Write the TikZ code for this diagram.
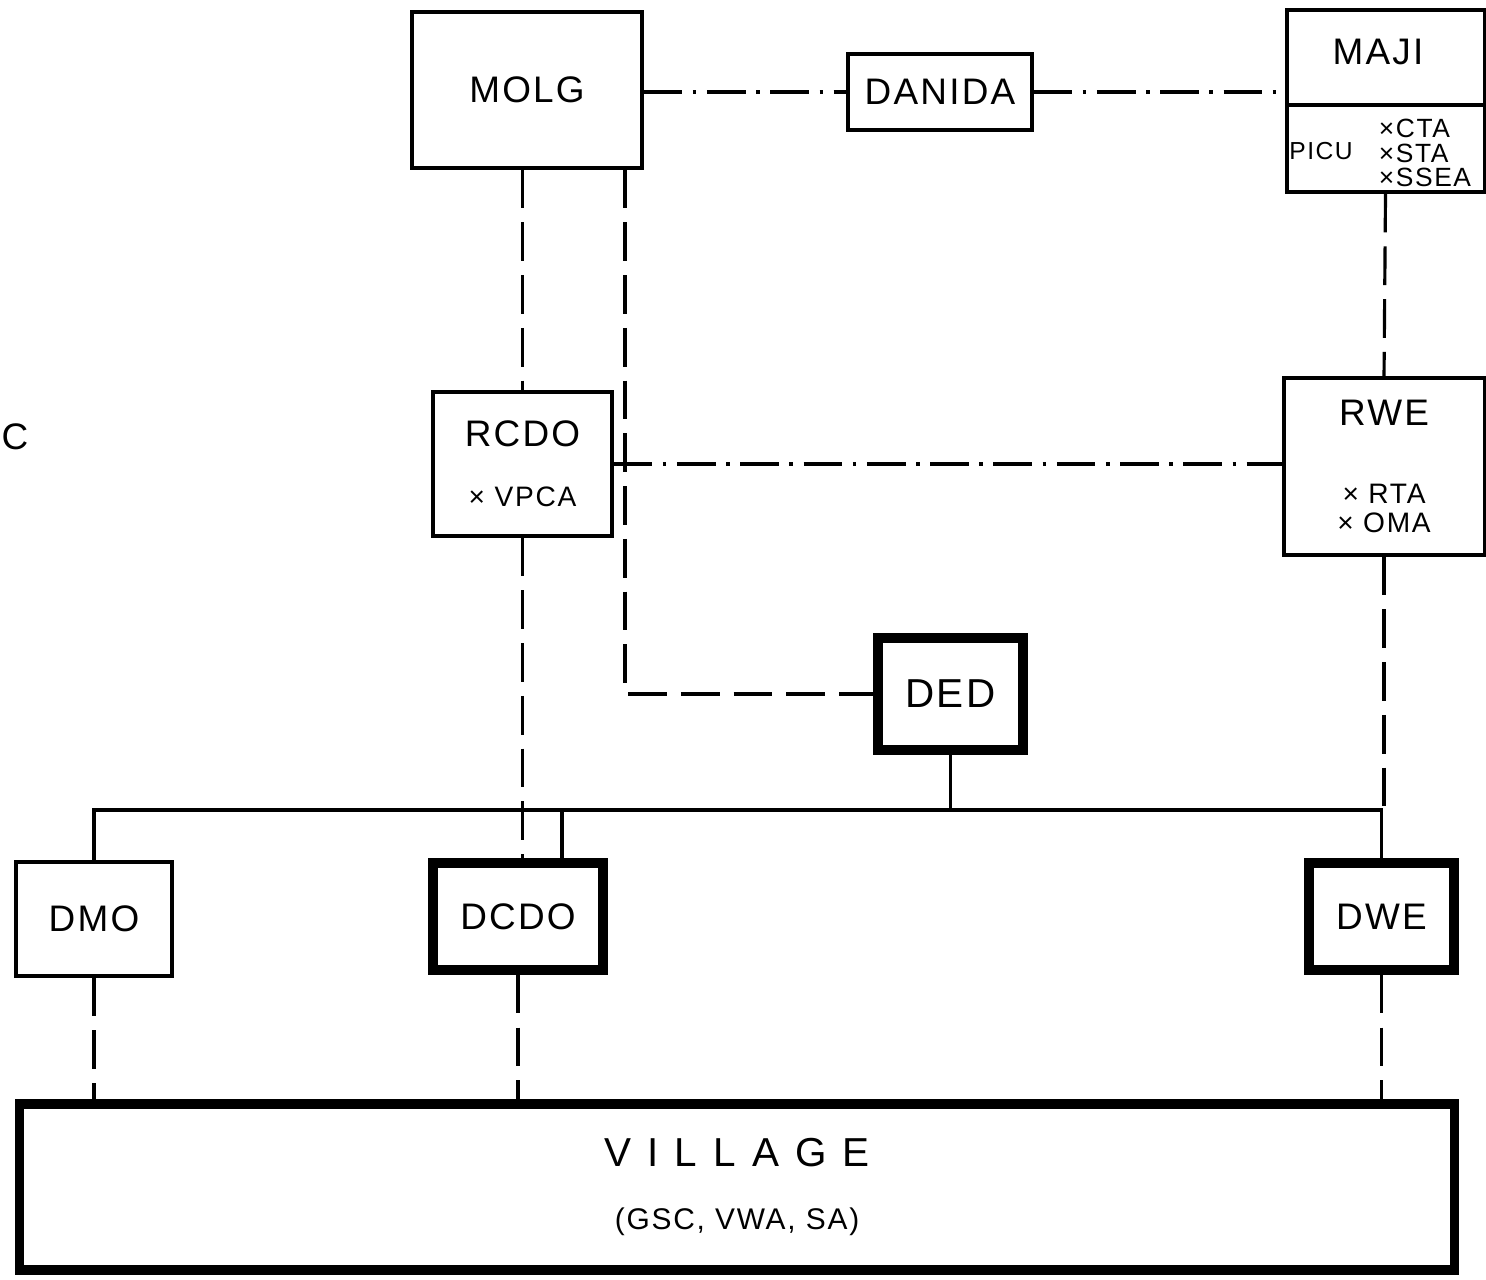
\documentclass[tikz,border=0pt]{standalone}
\usepackage{fontspec}
\setmainfont{Liberation Sans}[LetterSpace=6]
\newfontfamily\widefont{Liberation Sans}[LetterSpace=40]
\newcommand\subfont{\fontsize{8}{8.8}\selectfont}
\usetikzlibrary{positioning}

\begin{document}
\begin{tikzpicture}[x=0.01cm,y=-0.01cm,
  every node/.style={font=\fontsize{10.5}{12}\selectfont},
  box/.style={draw,line width=0.9pt,inner sep=0pt,align=center},
  heavy/.style={draw,line width=2.7pt,inner sep=0pt,align=center},
  wire/.style={line width=0.9pt},
  dashwire/.style={line width=0.9pt,dash pattern=on 11pt off 4pt},
  dotwire/.style={line width=0.9pt,dash pattern=on 11pt off 3pt on 1pt off 3pt}]
  \useasboundingbox (0,0) rectangle (1486,1280);
  % top row
  \node[box,minimum width=2.30cm,minimum height=1.56cm] (molg) at (527,90) {MOLG};
  \node[box,minimum width=1.84cm,minimum height=0.76cm] (danida) at (940,92) {DANIDA};
  \node[box,minimum width=1.97cm,minimum height=1.82cm] (maji) at (1385.5,101) {};
  \node (majititle) at (1378,52) {MAJI};
  \draw[wire] (maji.west |- 0,105) coordinate (cut) -- (cut -| maji.east);
  \node[font=\fontsize{7}{8}\selectfont] (picu) at (1321,151) {PICU};
  \node[font=\fontsize{7.5}{7}\selectfont,align=left] (picustaff) at (1425,153) {×CTA\\×STA\\×SSEA};
  % regional level
  \node[box,minimum width=1.79cm,minimum height=1.44cm] (rcdo) at (522.5,464)
    {RCDO\\[5pt]\subfont × VPCA};
  \node[box,minimum width=2.00cm,minimum height=1.77cm] (rwe) at (1384,466.5)
    {RWE\\[10pt]\subfont × RTA\\[-3.7pt]\subfont × OMA};
  \node[heavy,minimum width=1.45cm,minimum height=1.12cm,font=\fontsize{11.5}{13}\selectfont] (ded) at (950.5,694) {DED};
  % district level
  \node[box,minimum width=1.56cm,minimum height=1.14cm] (dmo) at (94,919) {DMO};
  \node[heavy,minimum width=1.70cm,minimum height=1.07cm] (dcdo) at (518,916.5) {DCDO};
  \node[heavy,minimum width=1.45cm,minimum height=1.07cm] (dwe) at (1381.5,916.5) {DWE};
  \node[heavy,minimum width=14.34cm,minimum height=1.66cm] (village) at (737,1187)
    {{\widefont\fontsize{11.5}{13}\selectfont VILLAGE}\\[6pt]\fontsize{8.5}{10}\selectfont (GSC, VWA, SA)};
  \node (mark) at (15,437) {C};
  % links
  \draw[dotwire] (molg.east |- danida.west) -- (danida.west);
  \draw[dotwire] (danida.east) -- (danida.east -| maji.west);
  \draw[dotwire] (rcdo.east) -- (rcdo.east -| rwe.west);
  \draw[dashwire] (rcdo.north |- molg.south) -- (rcdo.north);
  \coordinate (bend) at (625,694);
  \draw[dashwire] (bend |- molg.south) -- (bend) -- (ded.west);
  \draw[dashwire] (maji.south) -- (rwe.north);
  \coordinate (busy) at (0,810);
  \draw[dashwire] (rcdo.south) -- (rcdo.south |- dcdo.north);
  \draw[dashwire] (rwe.south) -- (rwe.south |- busy);
  \draw[wire] (dmo.north) |- (dwe.north |- busy) -- (dwe.north);
  \draw[wire] (ded.south) -- (ded.south |- busy);
  \coordinate (tap) at (562,810);
  \draw[wire] (tap) -- (tap |- dcdo.north);
  \draw[dashwire] (dmo.south) -- (dmo.south |- village.north);
  \draw[dashwire] (dcdo.south) -- (dcdo.south |- village.north);
  \draw[dashwire] (dwe.south) -- (dwe.south |- village.north);
\end{tikzpicture}
\end{document}
